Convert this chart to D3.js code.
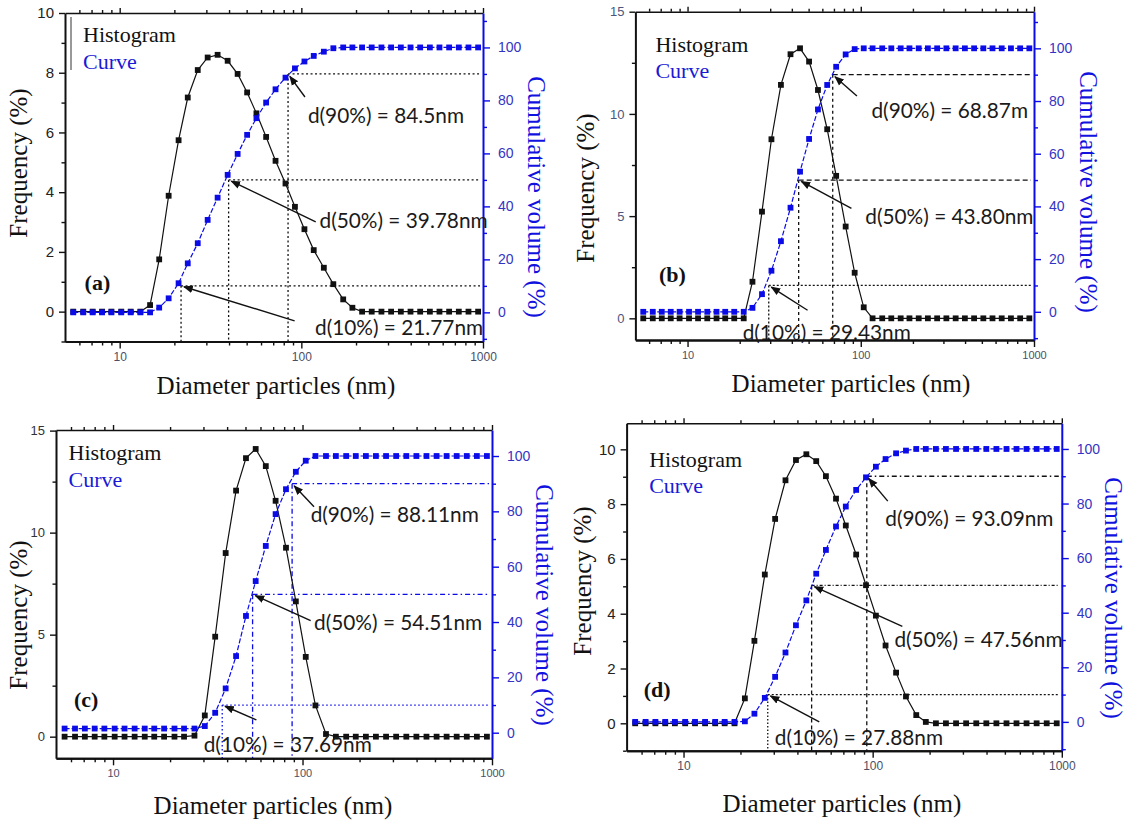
<!DOCTYPE html>
<html>
<head>
<meta charset="utf-8">
<script src="https://cdn.jsdelivr.net/npm/d3@7"></script>
<style>
  body { margin: 0; background: #fff; }
  svg { display: block; }
</style>
</head>
<body>
<svg id="fig" width="1131" height="821"></svg>
<script>
// size classes (nm), shared by the four measurements
const sizes = [5.55, 6.3, 7.1, 8.0, 9.0, 10.2, 11.5, 13.0, 14.7, 16.5, 18.6, 21.1, 23.7, 26.9, 30.5,
  34.6, 39.3, 44.6, 50.3, 56.6, 64, 72.1, 81.8, 92.2, 104, 117, 133, 150, 170, 191, 216, 244, 276,
  312, 353, 399, 451, 510, 576, 651, 736, 832, 940];

// (a)
const freqA = [0, 0, 0, 0, 0, 0, 0, 0, 0.22, 1.75, 3.88, 5.74, 7.17, 8.09, 8.51, 8.60, 8.40, 7.96,
  7.34, 6.64, 5.85, 5.05, 4.29, 3.51, 2.76, 2.06, 1.47, 0.92, 0.41, 0.13, 0, 0, 0, 0, 0, 0, 0, 0,
  0, 0, 0, 0, 0];
const cumA = [0, 0, 0, 0, 0, 0, 0, 0, 0, 1.8, 5.3, 11.0, 18.5, 26.1, 34.9, 43.3, 51.9, 59.8, 67.0,
  73.3, 79.2, 84.2, 88.6, 92.1, 94.7, 96.8, 98.4, 99.7, 100, 100, 100, 100, 100, 100, 100, 100,
  100, 100, 100, 100, 100, 100, 100];
// (b)
const freqB = [0, 0, 0, 0, 0, 0, 0, 0, 0, 0, 0, 0, 1.79, 5.22, 8.76, 11.42, 12.92, 13.21, 12.56,
  11.17, 9.25, 6.97, 4.49, 2.23, 0.54, 0, 0, 0, 0, 0, 0, 0, 0, 0, 0, 0, 0, 0, 0, 0, 0, 0, 0];
const cumB = [0, 0, 0, 0, 0, 0, 0, 0, 0, 0, 0, 0, 1.5, 6.7, 15.6, 26.8, 39.5, 53.2, 65.6, 76.8,
  86.1, 93.0, 97.7, 99.7, 100, 100, 100, 100, 100, 100, 100, 100, 100, 100, 100, 100, 100, 100,
  100, 100, 100, 100, 100];
// (c)
const freqC = [0, 0, 0, 0, 0, 0, 0, 0, 0, 0, 0, 0, 0, 0.05, 1.04, 4.9, 9.0, 12.06, 13.65, 14.1,
  13.26, 11.56, 9.26, 6.63, 3.91, 1.53, 0.13, 0, 0, 0, 0, 0, 0, 0, 0, 0, 0, 0, 0, 0, 0, 0, 0];
const cumC = [1.5, 1.5, 1.5, 1.5, 1.5, 1.5, 1.5, 1.5, 1.5, 1.5, 1.5, 1.5, 1.5, 1.5, 2.4, 7.2, 16.0,
  27.7, 42.2, 54.8, 67.5, 79.0, 88.0, 94.3, 98.3, 100, 100, 100, 100, 100, 100, 100, 100, 100, 100,
  100, 100, 100, 100, 100, 100, 100, 100];
// (d)
const freqD = [0, 0, 0, 0, 0, 0, 0, 0, 0, 0, 0, 0.91, 3.01, 5.43, 7.46, 8.87, 9.61, 9.82, 9.57,
  9.02, 8.20, 7.22, 6.16, 5.04, 3.93, 2.84, 1.85, 0.98, 0.30, 0.05, 0, 0, 0, 0, 0, 0, 0, 0, 0, 0,
  0, 0, 0];
const cumD = [0, 0, 0, 0, 0, 0, 0, 0, 0, 0, 0, 0.2, 3.0, 8.8, 16.5, 25.4, 35.4, 44.5, 54.3, 63.0,
  71.6, 78.9, 85.0, 89.6, 93.5, 96.3, 98.4, 99.4, 100, 100, 100, 100, 100, 100, 100, 100, 100, 100,
  100, 100, 100, 100, 100];

// d10, d50, d90 of each sample
const levels = [10, 50, 90];
const dA = [21.77, 39.78, 84.5];
const dB = [29.43, 43.80, 68.87];
const dC = [37.69, 54.51, 88.11];
const dD = [27.88, 47.56, 93.09];
const dLabelsA = ["d(10%) = 21.77nm", "d(50%) = 39.78nm", "d(90%) = 84.5nm"];
const dLabelsB = ["d(10%) = 29.43nm", "d(50%) = 43.80nm", "d(90%) = 68.87m"];
const dLabelsC = ["d(10%) = 37.69nm", "d(50%) = 54.51nm", "d(90%) = 88.11nm"];
const dLabelsD = ["d(10%) = 27.88nm", "d(50%) = 47.56nm", "d(90%) = 93.09nm"];

// ticks
const xTicks = [10, 100, 1000];
const xMinor = [6, 7, 8, 9, 20, 30, 40, 50, 60, 70, 80, 90, 200, 300, 400, 500, 600, 700, 800, 900];
const freqTicks10 = [0, 2, 4, 6, 8, 10], freqMinor10 = [-1, 1, 3, 5, 7, 9];
const freqTicks15 = [0, 5, 10, 15], freqMinor15 = [2.5, 7.5, 12.5];
const cumTicks = [0, 20, 40, 60, 80, 100], cumMinor = [-10, 10, 30, 50, 70, 90, 110];

const BLACK = "#111", BLUE = "#0b0be8";
const SERIF = "'Liberation Serif', 'Times New Roman', serif";
const SANS = "'Liberation Sans', Arial, sans-serif";
const NOTE = "Lato, 'Open Sans', sans-serif";

const panels = [
  { freq: freqA, cum: cumA, d: dA, labels: dLabelsA, letter: "(a)",
    box: { l: 65, r: 483, t: 13, b: 341.5 }, fDom: [-1, 10], cDom: [-11, 113],
    fTicks: freqTicks10, fMinor: freqMinor10, fSize: 15, fColor: "#222", xSize: 12,
    tails: [[91.8, -3.2], [120, 34.2], [104.7, 81.3]],
    notes: [[118.9, -5.4], [125.9, 34.9], [108.7, 74.5]],
    gColor: BLACK, hDash: ["2,2.5", "2,2.5", "2,2.5"], vDash: ["2,2.5", "2,2.5", "2,2.5"],
    legend: [83, 42], letterAt: [84.6, 290], bar: true,
    tF: [18, 163], tC: [536, 197], tX: [276, 385] },
  { freq: freqB, cum: cumB, d: dB, labels: dLabelsB, letter: "(b)",
    box: { l: 635.4, r: 1034, t: 11.7, b: 340 }, fDom: [-1.06, 15], cDom: [-10.7, 113.9],
    fTicks: freqTicks15, fMinor: freqMinor15, fSize: 13, fColor: "#4a5680", xSize: 11,
    tails: [[49.3, 0.6], [88.3, 39.3], [95, 81.9]],
    notes: [[20.8, -7.6], [106.2, 36.7], [115.3, 76.6]],
    gColor: BLACK, hDash: ["2,2", "5,3", "5,3"], vDash: ["2,2", "3,3", "3,3"],
    legend: [655.4, 51.7], letterAt: [659, 281.7], bar: false,
    tF: [585.5, 188], tC: [1088, 192], tX: [851, 383] },
  { freq: freqC, cum: cumC, d: dC, labels: dLabelsC, letter: "(c)",
    box: { l: 56, r: 492, t: 430, b: 758.3 }, fDom: [-1.06, 15.03], cDom: [-9.25, 109.4],
    fTicks: freqTicks15, fMinor: freqMinor15, fSize: 13, fColor: "#333", xSize: 11,
    tails: [[57.1, 4.6], [110.4, 40.5], [115, 81.7]],
    notes: [[30.1, -3.8], [115, 40.1], [110.4, 79.3]],
    gColor: BLUE, hDash: ["1.5,2.5", "5,3,1.5,3", "5,3,1.5,3"], vDash: ["1.5,2.5", "5,3,1.5,3", "5,3,1.5,3"],
    legend: [68.6, 460], letterAt: [74, 706.7], bar: false,
    tF: [18, 615], tC: [544.6, 605], tX: [273, 805] },
  { freq: freqD, cum: cumD, d: dD, labels: dLabelsD, letter: "(d)",
    box: { l: 626.6, r: 1061.8, t: 423.3, b: 750.7 }, fDom: [-1, 10.95], cDom: [-10.56, 109.4],
    fTicks: freqTicks10, fMinor: freqMinor10, fSize: 15, fColor: "#222", xSize: 12,
    tails: [[52.2, 0], [143.5, 35], [120.2, 80.9]],
    notes: [[30.4, -5.5], [130.3, 30.5], [116.6, 74.8]],
    gColor: BLACK, hDash: ["2,2", "3,2,1,2", "5,3,1.5,3"], vDash: ["1.5,2", "4,3", "4,3"],
    legend: [649.2, 466.7], letterAt: [643.8, 696.7], bar: false,
    tF: [582, 581], tC: [1113.5, 598], tX: [842, 803] }
];

const svg = d3.select("#fig");
svg.append("rect").attr("width", 1131).attr("height", 821).attr("fill", "#fff");

const defs = svg.append("defs");
defs.append("marker")
  .attr("id", "arrow")
  .attr("viewBox", "0 0 10 10")
  .attr("refX", 9).attr("refY", 5)
  .attr("markerWidth", 7).attr("markerHeight", 7)
  .attr("orient", "auto")
  .append("path")
  .attr("d", "M0,1L10,5L0,9z")
  .attr("fill", BLACK);

function styleAxis(sel, color, size, family, textColor) {
  sel.select(".domain").attr("stroke", color).attr("stroke-width", 2);
  sel.selectAll(".tick line").attr("stroke", color).attr("stroke-width", 1.4);
  sel.selectAll("text").attr("font-family", family).attr("font-size", size).attr("fill", textColor);
}

function drawPanel(p) {
  const g = svg.append("g");
  const x = d3.scaleLog().domain([5, 1000]).range([p.box.l, p.box.r]);
  const yF = d3.scaleLinear().domain(p.fDom).range([p.box.b, p.box.t]);
  const yC = d3.scaleLinear().domain(p.cDom).range([p.box.b, p.box.t]);

  // guide lines at 10 / 50 / 90 %
  levels.forEach((lv, i) => {
    g.append("line")
      .attr("x1", x(p.d[i])).attr("x2", p.box.r - 3)
      .attr("y1", yC(lv)).attr("y2", yC(lv))
      .attr("stroke", p.gColor).attr("stroke-width", 1.3)
      .attr("stroke-dasharray", p.hDash[i]);
    g.append("line")
      .attr("x1", x(p.d[i])).attr("x2", x(p.d[i]))
      .attr("y1", yC(lv)).attr("y2", p.box.b)
      .attr("stroke", p.gColor).attr("stroke-width", 1.3)
      .attr("stroke-dasharray", p.vDash[i]);
  });

  const pts = sizes.map((s, i) => ({ s: s, f: p.freq[i], c: p.cum[i] }));

  // histogram (black)
  g.append("path").datum(pts)
    .attr("d", d3.line().x(d => x(d.s)).y(d => yF(d.f)))
    .attr("fill", "none").attr("stroke", BLACK).attr("stroke-width", 1.2);
  g.selectAll(".sqF").data(pts).join("rect")
    .attr("x", d => x(d.s) - 2.9).attr("y", d => yF(d.f) - 2.9)
    .attr("width", 5.8).attr("height", 5.8).attr("fill", BLACK);

  // cumulative curve (blue)
  g.append("path").datum(pts)
    .attr("d", d3.line().x(d => x(d.s)).y(d => yC(d.c)))
    .attr("fill", "none").attr("stroke", BLUE).attr("stroke-width", 1.2)
    .attr("stroke-dasharray", "5,2");
  g.selectAll(".sqC").data(pts).join("rect")
    .attr("x", d => x(d.s) - 2.9).attr("y", d => yC(d.c) - 2.9)
    .attr("width", 5.8).attr("height", 5.8).attr("fill", BLUE);

  // axes
  const bottom = g.append("g").attr("transform", `translate(0,${p.box.b})`)
    .call(d3.axisBottom(x).tickValues(xTicks).tickFormat(d3.format("d")).tickSize(7).tickSizeOuter(0).tickPadding(4));
  styleAxis(bottom, BLACK, p.xSize, SANS, "#4a4f66");
  const bottomMinor = g.append("g").attr("transform", `translate(0,${p.box.b})`)
    .call(d3.axisBottom(x).tickValues(xMinor).tickFormat("").tickSize(4).tickSizeOuter(0));
  styleAxis(bottomMinor, BLACK, 0, SANS, "none");

  const top = g.append("g").attr("transform", `translate(0,${p.box.t})`)
    .call(d3.axisTop(x).tickValues(xTicks).tickFormat("").tickSize(5).tickSizeOuter(0));
  styleAxis(top, BLACK, 0, SANS, "none");
  top.select(".domain").attr("stroke-width", 1.6);
  const topMinor = g.append("g").attr("transform", `translate(0,${p.box.t})`)
    .call(d3.axisTop(x).tickValues(xMinor).tickFormat("").tickSize(3).tickSizeOuter(0));
  styleAxis(topMinor, BLACK, 0, SANS, "none");
  topMinor.select(".domain").remove();

  const left = g.append("g").attr("transform", `translate(${p.box.l},0)`)
    .call(d3.axisLeft(yF).tickValues(p.fTicks).tickFormat(d3.format("d")).tickSize(6).tickSizeOuter(0).tickPadding(5));
  styleAxis(left, BLACK, p.fSize, SANS, p.fColor);
  const leftMinor = g.append("g").attr("transform", `translate(${p.box.l},0)`)
    .call(d3.axisLeft(yF).tickValues(p.fMinor.filter(v => v >= p.fDom[0] && v <= p.fDom[1])).tickFormat("").tickSize(3.5).tickSizeOuter(0));
  styleAxis(leftMinor, BLACK, 0, SANS, "none");
  leftMinor.select(".domain").remove();

  const right = g.append("g").attr("transform", `translate(${p.box.r},0)`)
    .call(d3.axisRight(yC).tickValues(cumTicks).tickFormat(d3.format("d")).tickSize(7).tickSizeOuter(0).tickPadding(8));
  styleAxis(right, BLUE, 14, SANS, "#3434c4");
  const rightMinor = g.append("g").attr("transform", `translate(${p.box.r},0)`)
    .call(d3.axisRight(yC).tickValues(cumMinor.filter(v => v >= p.cDom[0] && v <= p.cDom[1])).tickFormat("").tickSize(4).tickSizeOuter(0));
  styleAxis(rightMinor, BLUE, 0, SANS, "none");
  rightMinor.select(".domain").remove();

  // arrows + notes
  levels.forEach((lv, i) => {
    const tx = x(p.tails[i][0]), ty = yC(p.tails[i][1]);
    let hx = x(p.d[i]), hy = yC(lv);
    const len = Math.hypot(hx - tx, hy - ty);
    hx = hx - (hx - tx) / len * 3;
    hy = hy - (hy - ty) / len * 3;
    g.append("line")
      .attr("x1", tx).attr("y1", ty).attr("x2", hx).attr("y2", hy)
      .attr("stroke", BLACK).attr("stroke-width", 1.4)
      .attr("marker-end", "url(#arrow)");
    g.append("text")
      .attr("x", x(p.notes[i][0])).attr("y", yC(p.notes[i][1]))
      .attr("dominant-baseline", "central")
      .attr("font-family", NOTE).attr("font-size", 20.8).attr("fill", "#1a1a1a")
      .text(p.labels[i]);
  });

  // legend texts
  g.append("text").attr("x", p.legend[0]).attr("y", p.legend[1])
    .attr("font-family", SERIF).attr("font-size", 22).attr("fill", BLACK).text("Histogram");
  g.append("text").attr("x", p.legend[0]).attr("y", p.legend[1] + 26.6)
    .attr("font-family", SERIF).attr("font-size", 22).attr("fill", "#1a1ad6").text("Curve");
  if (p.bar) {
    g.append("line").attr("x1", p.box.l + 6).attr("x2", p.box.l + 6)
      .attr("y1", p.box.t + 4).attr("y2", p.box.t + 57)
      .attr("stroke", "#333").attr("stroke-width", 1);
  }
  g.append("text").attr("x", p.letterAt[0]).attr("y", p.letterAt[1])
    .attr("font-family", SERIF).attr("font-size", 22).attr("font-weight", "bold")
    .attr("fill", BLACK).text(p.letter);

  // axis titles
  g.append("text")
    .attr("transform", `translate(${p.tF[0]},${p.tF[1]}) rotate(-90)`)
    .attr("text-anchor", "middle").attr("dominant-baseline", "central")
    .attr("font-family", SERIF).attr("font-size", 25).attr("fill", BLACK)
    .text("Frequency  (%)");
  g.append("text")
    .attr("transform", `translate(${p.tC[0]},${p.tC[1]}) rotate(90)`)
    .attr("text-anchor", "middle").attr("dominant-baseline", "central")
    .attr("font-family", SERIF).attr("font-size", 25).attr("fill", "#1212e0")
    .text("Cumulative volume (%)");
  g.append("text")
    .attr("x", p.tX[0]).attr("y", p.tX[1])
    .attr("text-anchor", "middle").attr("dominant-baseline", "central")
    .attr("font-family", SERIF).attr("font-size", 25).attr("fill", BLACK)
    .text("Diameter  particles  (nm)");
}

panels.forEach(drawPanel);
</script>
</body>
</html>
